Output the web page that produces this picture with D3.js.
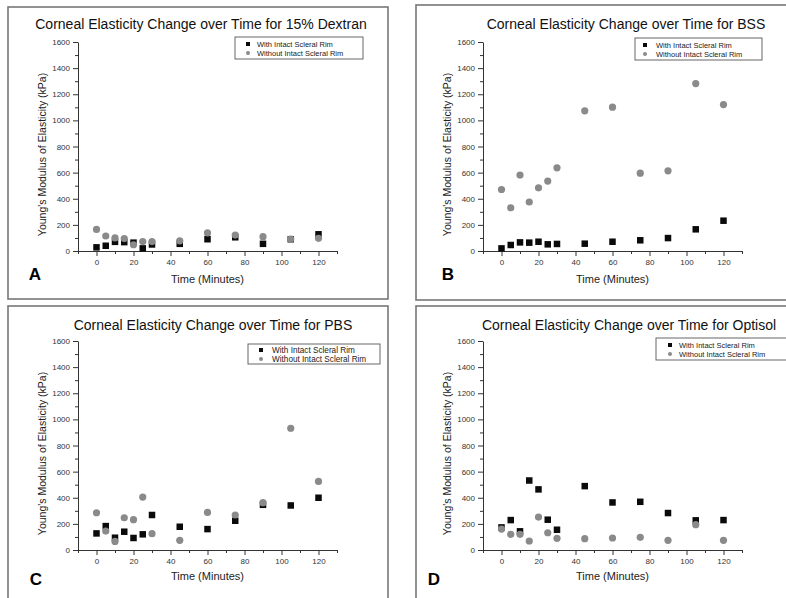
<!DOCTYPE html>
<html>
<head>
<script src="https://d3js.org/d3.v7.min.js"></script>
<style>
  body { margin: 0; background: #fff; }
  svg { display: block; font-family: "Liberation Sans", Arial, sans-serif; }
  .frame { fill: none; stroke: #777; stroke-width: 1.6px; }
  .axis path, .axis line { stroke: #333; }
  .axis text { fill: #333; font-size: 8px; }
  .title { font-size: 14px; fill: #111; }
  .ylabel, .xlabel { fill: #222; }
  .letter { font-size: 17px; font-weight: bold; fill: #000; }
  .legend rect.box { fill: #fff; stroke: #666; stroke-width: 1px; }
  .legend text { fill: #222; }
</style>
</head>
<body>
<div id="chart"></div>
<script>
// data (kPa at each time point, minutes)
var times = [0, 5, 10, 15, 20, 25, 30, 45, 60, 75, 90, 105, 120];

var dextranWith    = [28, 40, 70, 68, 64, 20, 50, 55, 90, 105, 55, 90, 128];
var dextranWithout = [165, 115, 100, 95, 48, 72, 72, 78, 138, 122, 110, 92, 97];

var bssWith    = [20, 46, 66, 64, 71, 51, 54, 56, 71, 82, 99, 166, 232];
var bssWithout = [471, 331, 581, 375, 484, 535, 637, 1073, 1101, 596, 614, 1282, 1121];

var pbsWith    = [127, 183, 94, 140, 92, 120, 268, 178, 160, 224, 346, 341, 400];
var pbsWithout = [285, 145, 66, 247, 232, 405, 125, 74, 288, 268, 362, 932, 525];

var optisolWith    = [173, 229, 143, 532, 464, 232, 155, 489, 364, 369, 283, 227, 229];
var optisolWithout = [160, 120, 120, 69, 252, 132, 89, 87, 92, 97, 74, 194, 74];

var titles = [
  "Corneal Elasticity Change over Time for 15% Dextran",
  "Corneal Elasticity Change over Time for BSS",
  "Corneal Elasticity Change over Time for PBS",
  "Corneal Elasticity Change over Time for Optisol"
];
var letters = ["A", "B", "C", "D"];
var seriesNames = ["With Intact Scleral Rim", "Without Intact Scleral Rim"];
var xTicks = [0, 20, 40, 60, 80, 100, 120];
var xMinor = [-10, 10, 30, 50, 70, 90, 110, 130];
var yTicks = [0, 200, 400, 600, 800, 1000, 1200, 1400, 1600];
var yMinor = [100, 300, 500, 700, 900, 1100, 1300, 1500];
var xDomain = [-10, 130];
var yDomain = [0, 1600];
var yTitle = "Young's Modulus of Elasticity (kPa)";
var xTitle = "Time (Minutes)";

var panelData = [
  [dextranWith, dextranWithout],
  [bssWith, bssWithout],
  [pbsWith, pbsWithout],
  [optisolWith, optisolWithout]
];

// layout of the four panels
var layout = [
  { frame: [8, 7, 380, 292], px: [78, 337], py: [251, 42], tx: 201, ty: 29, lx: 35, ly: 280, xly: 283,
    leg: { x: 235, y: 37, w: 128, h: 22, mx: 248, tx: 257, r1: 44, r2: 53, fs: 7.5 } },
  { frame: [416, 5, 380, 295], px: [483, 742], py: [251, 42], tx: 626, ty: 29, lx: 448, ly: 280, xly: 283,
    leg: { x: 635, y: 38, w: 127, h: 22, mx: 645, tx: 656, r1: 45, r2: 54, fs: 7.5 } },
  { frame: [8, 306, 380, 300], px: [78, 337], py: [550, 341], tx: 213, ty: 330, lx: 36, ly: 585, xly: 580,
    leg: { x: 248, y: 344, w: 132, h: 20, mx: 261, tx: 272, r1: 350, r2: 359, fs: 8.2 } },
  { frame: [416, 306, 380, 300], px: [483, 742], py: [550, 341], tx: 629, ty: 330, lx: 434, ly: 585, xly: 580,
    leg: { x: 656, y: 338, w: 140, h: 22, mx: 670, tx: 679, r1: 345, r2: 354, fs: 7.5 } }
];

var width = 786, height = 598;

var svg = d3.select("#chart").append("svg")
    .attr("width", width)
    .attr("height", height);

layout.forEach(function(L, i) {
  var g = svg.append("g");

  g.append("rect")
      .attr("class", "frame")
      .attr("x", L.frame[0]).attr("y", L.frame[1])
      .attr("width", L.frame[2]).attr("height", L.frame[3]);

  var x = d3.scaleLinear().domain(xDomain).range(L.px);
  var y = d3.scaleLinear().domain(yDomain).range(L.py);

  // x axis: major + minor ticks
  g.append("g")
      .attr("class", "axis")
      .attr("transform", "translate(0," + L.py[0] + ")")
      .call(d3.axisBottom(x).tickValues(xMinor).tickSize(3).tickFormat("").tickSizeOuter(0));
  g.append("g")
      .attr("class", "axis")
      .attr("transform", "translate(0," + L.py[0] + ")")
      .call(d3.axisBottom(x).tickValues(xTicks).tickSize(5).tickPadding(3).tickSizeOuter(0))
    .select(".domain").remove();

  // y axis
  g.append("g")
      .attr("class", "axis")
      .attr("transform", "translate(" + L.px[0] + ",0)")
      .call(d3.axisLeft(y).tickValues(yMinor).tickSize(3).tickFormat("").tickSizeOuter(0));
  g.append("g")
      .attr("class", "axis")
      .attr("transform", "translate(" + L.px[0] + ",0)")
      .call(d3.axisLeft(y).tickValues(yTicks).tickSize(5).tickPadding(3).tickFormat(d3.format("d")))
    .select(".domain").remove();

  // titles
  g.append("text")
      .attr("class", "title")
      .attr("x", L.tx).attr("y", L.ty)
      .attr("text-anchor", "middle")
      .text(titles[i]);

  g.append("text")
      .attr("class", "ylabel")
      .attr("transform", "translate(" + (L.px[0] - 32) + "," + ((L.py[0] + L.py[1]) / 2 + 8) + ") rotate(-90)")
      .attr("text-anchor", "middle")
      .style("font-size", "10.5px")
      .text(yTitle);

  g.append("text")
      .attr("class", "xlabel")
      .attr("x", (L.px[0] + L.px[1]) / 2)
      .attr("y", L.xly)
      .attr("text-anchor", "middle")
      .style("font-size", "11px")
      .text(xTitle);

  g.append("text")
      .attr("class", "letter")
      .attr("x", L.lx).attr("y", L.ly)
      .attr("text-anchor", "middle")
      .text(letters[i]);

  // points: squares first, circles on top
  var withVals = panelData[i][0], withoutVals = panelData[i][1];
  var s = 6.5;
  g.append("g").selectAll("rect")
      .data(times)
      .enter().append("rect")
      .attr("x", function(d) { return x(d) - s / 2; })
      .attr("y", function(d, j) { return y(withVals[j]) - s / 2; })
      .attr("width", s).attr("height", s)
      .attr("fill", "#0a0a0a");

  g.append("g").selectAll("circle")
      .data(times)
      .enter().append("circle")
      .attr("cx", function(d) { return x(d); })
      .attr("cy", function(d, j) { return y(withoutVals[j]); })
      .attr("r", 3.6)
      .attr("fill", "#8a8a8a");

  // legend
  var lg = g.append("g").attr("class", "legend");
  lg.append("rect")
      .attr("class", "box")
      .attr("x", L.leg.x).attr("y", L.leg.y)
      .attr("width", L.leg.w).attr("height", L.leg.h);
  lg.append("rect")
      .attr("x", L.leg.mx - 2).attr("y", L.leg.r1 - 2)
      .attr("width", 4).attr("height", 4)
      .attr("fill", "#0a0a0a");
  lg.append("circle")
      .attr("cx", L.leg.mx).attr("cy", L.leg.r2)
      .attr("r", 2)
      .attr("fill", "#8a8a8a");
  lg.selectAll("text")
      .data(seriesNames)
      .enter().append("text")
      .attr("x", L.leg.tx)
      .attr("y", function(d, j) { return (j === 0 ? L.leg.r1 : L.leg.r2) + 2.7; })
      .style("font-size", L.leg.fs + "px")
      .text(function(d) { return d; });
});
</script>
</body>
</html>
